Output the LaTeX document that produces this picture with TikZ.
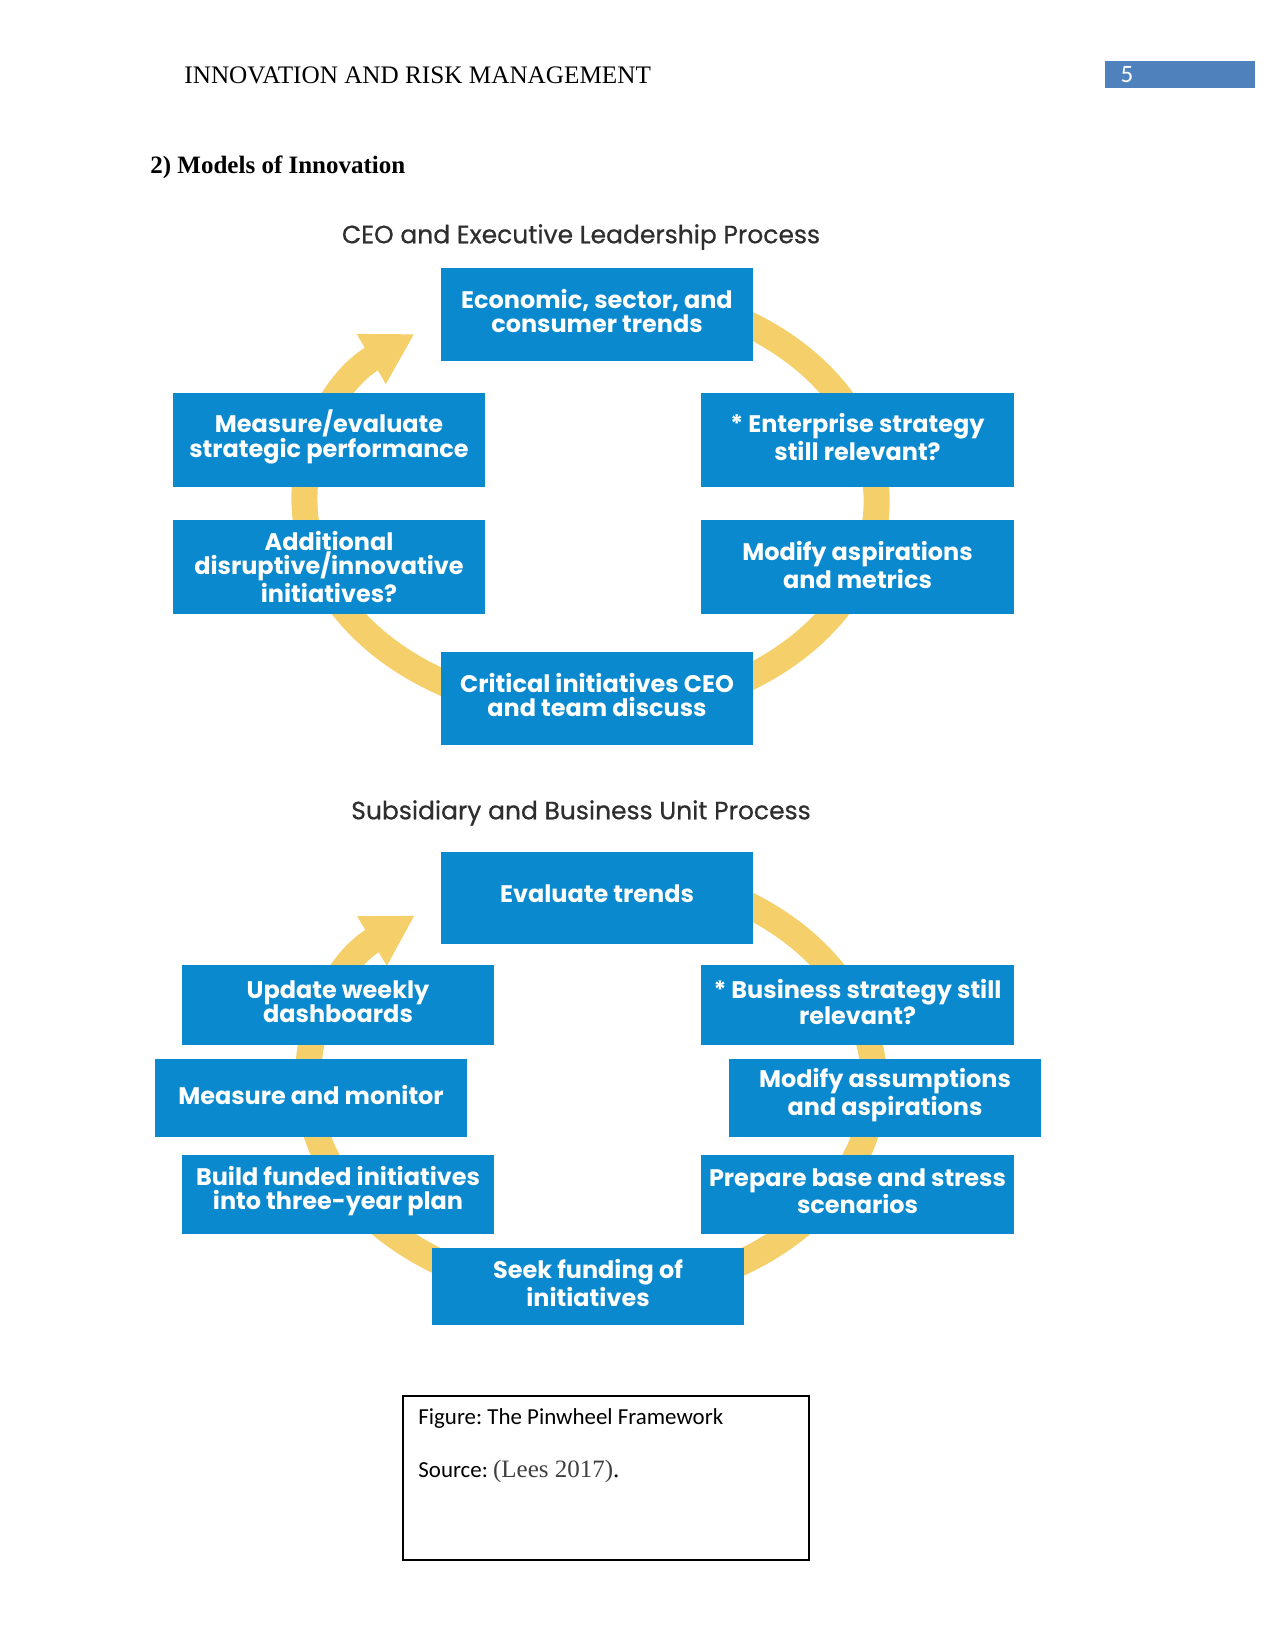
\documentclass[tikz,border=0pt]{standalone}
\usepackage{fontspec}
\setmainfont{Liberation Serif}
\newfontfamily\futura{Poppins}
\newfontfamily\futuramed[FakeBold=0.6]{Poppins}
\newfontfamily\calib{Carlito}
\usetikzlibrary{arrows.meta}
\frenchspacing
\definecolor{boxblue}{HTML}{0A89CF}
\definecolor{ringyellow}{HTML}{F5D06A}
\definecolor{pageblue}{HTML}{4F81BD}
\definecolor{titlegray}{HTML}{2E2E2E}
\definecolor{srcgray}{HTML}{404040}
\tikzset{
  bx/.style={fill=boxblue, draw=none, minimum width=150.2pt, inner sep=0pt},
  bxtxt/.style={text=white, align=center, font=\futura\bfseries\fontsize{11.5}{11.6}\selectfont, inner sep=0pt},
  ring/.style={draw=ringyellow, line width=12.5pt},
  ringarrow/.style={-{Triangle[length=24pt,width=26pt]}},
  ttl/.style={text=titlegray, font=\futuramed\fontsize{12}{14}\selectfont, inner sep=0pt},
}
\begin{document}
\begin{tikzpicture}[x=0.48pt,y=-0.48pt]
\useasboundingbox (0,0) rectangle (1275,1651);
\fill[white] (0,0) rectangle (1275,1651);

% header
\node[anchor=west, inner sep=0pt, font=\fontsize{12.1}{14}\selectfont] (hdr) at (184,75) {INNOVATION AND RISK MANAGEMENT};
\node[fill=pageblue, minimum width=72pt, minimum height=13pt, inner sep=0pt] (pg) at (1180,74.5) {};
\node[text=white, font=\calib\fontsize{12}{14}\selectfont, inner sep=0pt] (pgnum) at (1127,75) {5};
\node[anchor=west, inner sep=0pt, font=\bfseries\fontsize{12}{14}\selectfont] (sec) at (150,167) {2) Models of Innovation};

% ---------- top diagram ----------
\node[ttl] (t1) at (581,237) {CEO and Executive Leadership Process};
\coordinate (c1) at (590.6,501);
\draw[ring, ringarrow] (c1) ++(-100:286 and 212) arc[start angle=-100, end angle=232, x radius=286, y radius=212];

\node[bx, minimum height=44.6pt] (econ) at (597,314.5) {};
\node[bxtxt] at ([yshift=1.5pt]econ.center) {Economic, sector, and\\consumer trends};
\node[bx, minimum height=45.1pt] (meas) at (329,440) {};
\node[bxtxt] at ([yshift=1.5pt]meas.center) {Measure/evaluate\\strategic performance};
\node[bx, minimum height=45.1pt] (ent) at (857.5,440) {};
\node[bxtxt] at ([yshift=1.5pt]ent.center) {* Enterprise strategy\\still relevant?};
\node[bx, minimum height=45.1pt] (add) at (329,567) {};
\node[bxtxt] at ([yshift=0pt]add.center) {Additional\\disruptive/innovative\\initiatives?};
\node[bx, minimum height=45.1pt] (modasp) at (857.5,567) {};
\node[bxtxt] at ([yshift=1pt]modasp.center) {Modify aspirations\\and metrics};
\node[bx, minimum height=44.6pt] (crit) at (597,698.5) {};
\node[bxtxt] at ([yshift=1.5pt]crit.center) {Critical initiatives CEO\\and team discuss};

% ---------- bottom diagram ----------
\node[ttl] (t2) at (581,813) {Subsidiary and Business Unit Process};
\coordinate (c2) at (591,1082);
\draw[ring, ringarrow] (c2) ++(-100:283 and 213) arc[start angle=-100, end angle=231.5, x radius=283, y radius=213];

\node[bx, minimum height=44.2pt] (eval) at (597,898) {};
\node[bxtxt] at ([yshift=2pt]eval.center) {Evaluate trends};
\node[bx, minimum height=38.4pt] (upd) at (338,1005) {};
\node[bxtxt] at ([yshift=1.5pt]upd.center) {Update weekly\\dashboards};
\node[bx, minimum height=38.4pt] (bus) at (857.5,1005) {};
\node[bxtxt] at ([yshift=1.5pt]bus.center) {* Business strategy still\\relevant?};
\node[bx, minimum height=37.4pt] (mm) at (311,1098) {};
\node[bxtxt] at ([yshift=1.5pt]mm.center) {Measure and monitor};
\node[bx, minimum height=37.4pt] (mas) at (885,1098) {};
\node[bxtxt] at ([yshift=1.5pt]mas.center) {Modify assumptions\\and aspirations};
\node[bx, minimum height=37.9pt] (build) at (338,1194.5) {};
\node[bxtxt] at ([yshift=1.5pt]build.center) {Build funded initiatives\\into three-year plan};
\node[bx, minimum height=37.9pt] (prep) at (857.5,1194.5) {};
\node[bxtxt] at ([yshift=1.5pt]prep.center) {Prepare base and stress\\scenarios};
\node[bx, minimum height=37pt] (seek) at (588,1286.5) {};
\node[bxtxt] at ([yshift=1.5pt]seek.center) {Seek funding of\\initiatives};

% ---------- caption ----------
\node[draw=black, line width=0.6pt, minimum width=194.9pt, minimum height=78.7pt, inner sep=0pt] (cap) at (606,1478) {};
\node[anchor=west, inner sep=0pt, font=\calib\fontsize{11}{13}\selectfont] (fig) at (418,1418) {Figure: The Pinwheel Framework};
\node[anchor=west, inner sep=0pt, font=\fontsize{12}{14}\selectfont] (src) at (418,1471) {{\calib\fontsize{11}{13}\selectfont Source: }\textcolor{srcgray}{(Lees 2017)}.};
\end{tikzpicture}
\end{document}
